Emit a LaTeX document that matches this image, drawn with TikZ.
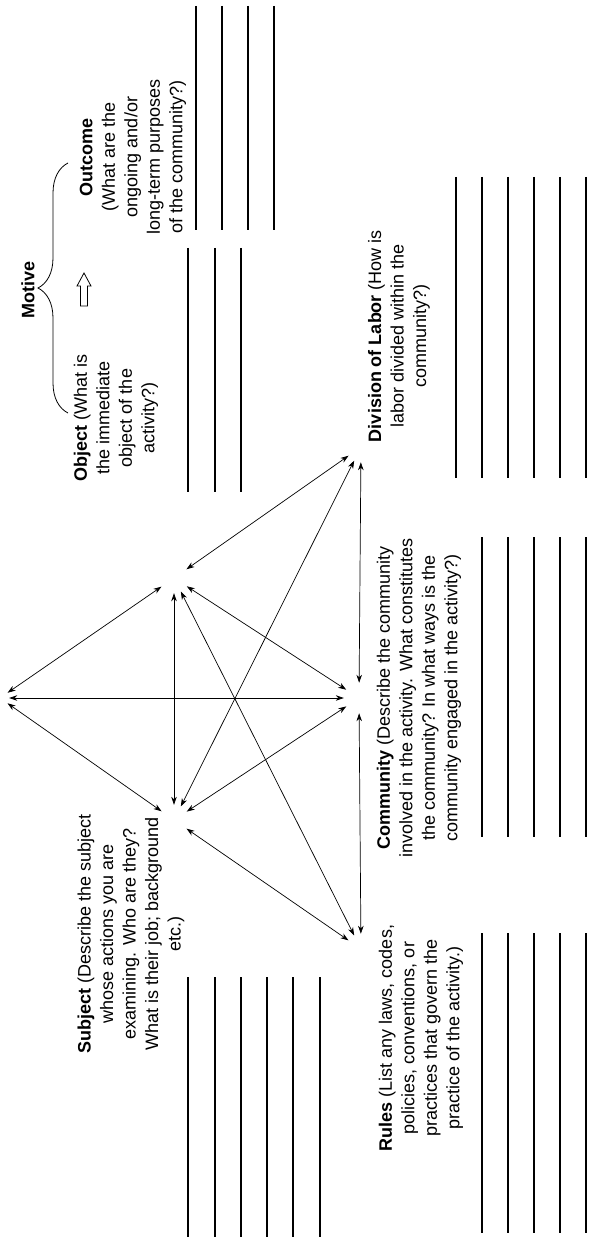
\documentclass[tikz,border=0pt]{standalone}
\usepackage{fontspec}
\setmainfont{Liberation Sans}
\usetikzlibrary{arrows.meta,decorations.pathreplacing}

\begin{document}
\begin{tikzpicture}[x=1pt,y=-1pt
,vtx/.style={circle,inner sep=0pt,minimum size=30pt}
,arr/.style={{Stealth[length=8pt,width=5.5pt,inset=2.5pt]}-{Stealth[length=8pt,width=5.5pt,inset=2.5pt]},line width=0.7pt}
,rline/.style={line width=1.4pt}
,lbl/.style={rotate=90,align=center,inner sep=0pt,font=\fontsize{18}{22.5}\selectfont}
]
\fill[white] (0,0) rectangle (589,1241);
\useasboundingbox (0,0) rectangle (589,1241);
% corners of the triangle
\node[vtx,minimum size=18pt] (T) at (0,698) {};
\node[vtx] (O) at (174,578) {};
\node[vtx] (S) at (174,820) {};
\node[vtx] (D) at (361,447) {};
\node[vtx] (C) at (359,698) {};
\node[vtx] (R) at (361,949) {};
\draw[arr] (T) -- (O);
\draw[arr] (T) -- (S);
\draw[arr] (T) -- (C);
\draw[arr] (O) -- (S);
\draw[arr] (O) -- (D);
\draw[arr] (O) -- (C);
\draw[arr] (O) -- (R);
\draw[arr] (S) -- (D);
\draw[arr] (S) -- (C);
\draw[arr] (S) -- (R);
\draw[arr] (D) -- (C);
\draw[arr] (C) -- (R);
% texts
\node[lbl] (motive) at (28,290) {\textbf{Motive}};
\node[lbl] (outcome) at (133,157) {\textbf{Outcome}\\(What are the\\ongoing and/or\\long-term purposes\\of the community?)};
\node[lbl] (object) at (116,418) {\textbf{Object} (What is\\the immediate\\object of the\\activity?)};
\node[lbl] (subject) at (131,934) {\textbf{Subject} (Describe the subject\\whose actions you are\\examining. Who are they?\\What is their job; background\\etc.)};
\node[lbl] (division) at (399,336) {\textbf{Division of Labor} (How is\\labor divided within the\\community?)};
\node[lbl] (community) at (419,698) {\textbf{Community} (Describe the community\\involved in the activity. What constitutes\\the community? In what ways is the\\community engaged in the activity?)};
\node[lbl] (rules) at (421,1038) {\textbf{Rules} (List any laws, codes,\\policies, conventions, or\\practices that govern the\\practice of the activity.)};
% brace and open arrow
\draw[decorate,decoration={brace,amplitude=30pt},line width=0.8pt] (68,413) -- (68,163);
\draw[line width=0.8pt] (80.5,306) -- (80.5,286) -- (77,286) -- (84,273) -- (91,286) -- (87.5,286) -- (87.5,306) -- cycle;
% lines to write on
\foreach \x in {196,222,248,274} \draw[rline] (\x,6) -- (\x,230);
\foreach \x in {188,215,241} \draw[rline] (\x,248) -- (\x,492);
\foreach \x in {188,215,241,267,293,320} \draw[rline] (\x,977) -- (\x,1237);
\foreach \x in {456,482,508,534,560,586} \draw[rline] (\x,177) -- (\x,478);
\foreach \x in {482,508,534,560,586} \draw[rline] (\x,537) -- (\x,837);
\foreach \x in {482,508,534,560,586} \draw[rline] (\x,933) -- (\x,1233);
\end{tikzpicture}
\end{document}
